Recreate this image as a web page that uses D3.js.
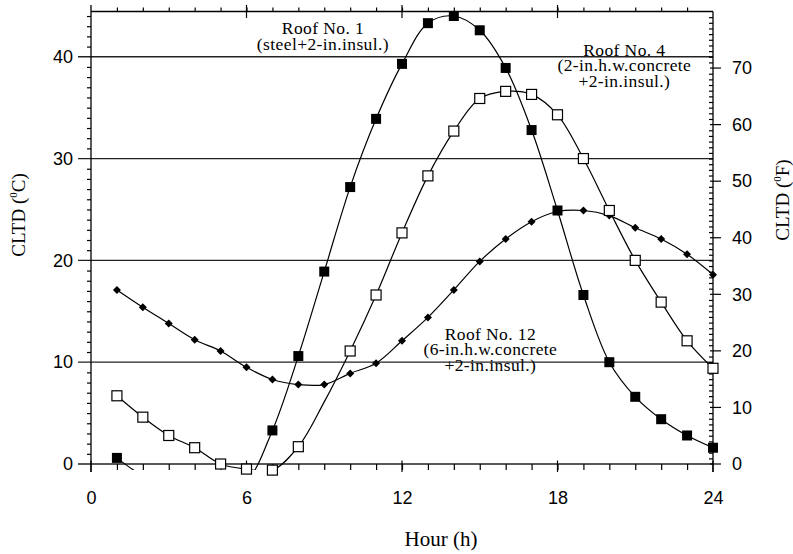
<!DOCTYPE html>
<html>
<head>
<meta charset="utf-8">
<script src="https://cdn.jsdelivr.net/npm/d3@7/dist/d3.min.js"></script>
<style>
  body { margin: 0; background: #fff; }
</style>
</head>
<body>
<div id="chart"></div>
<script>
// hours of the day and CLTD values (deg C)
var hours = [1, 2, 3, 4, 5, 6, 7, 8, 9, 10, 11, 12, 13, 14, 15, 16, 17, 18, 19, 20, 21, 22, 23, 24];
var roof1 = [0.6, -1.1, -1.7, -1.7, -2.8, -1.7, 3.3, 10.6, 18.9, 27.2, 33.9, 39.3, 43.3, 44.0, 42.6, 38.9, 32.8, 24.9, 16.6, 10.0, 6.6, 4.4, 2.8, 1.6];
var roof4 = [6.7, 4.6, 2.8, 1.6, 0.0, -0.5, -0.6, 1.7, 6.1, 11.1, 16.6, 22.7, 28.3, 32.7, 35.9, 36.6, 36.3, 34.3, 30.0, 24.9, 20.0, 15.9, 12.1, 9.4];
var roof12 = [17.1, 15.4, 13.8, 12.2, 11.1, 9.5, 8.3, 7.8, 7.8, 8.9, 9.9, 12.1, 14.4, 17.1, 19.9, 22.1, 23.8, 24.8, 24.9, 24.4, 23.2, 22.1, 20.6, 18.6];
var roof4NoMarker = [9];   // no marker drawn at 9 h in the original

var xTicks = [0, 6, 12, 18, 24];
var cTicks = [0, 10, 20, 30, 40];
var fTicks = [0, 10, 20, 30, 40, 50, 60, 70];

var notes = [
  {lines: ["Roof No. 1", "(steel+2-in.insul.)"], hour: 8.95, c: 42.2},
  {lines: ["Roof No. 4", "(2-in.h.w.concrete", "+2-in.insul.)"], hour: 20.58, c: 40.1},
  {lines: ["Roof No. 12", "(6-in.h.w.concrete", "+2-in.insul.)"], hour: 15.41, c: 12.2}
];

// set the dimensions of the plot box
var width = 793, height = 554;
var box = {left: 91, right: 713, top: 11.5, bottom: 464};

var svg = d3.select("#chart")
  .append("svg")
    .attr("width", width)
    .attr("height", height);

var x = d3.scaleLinear().domain([0, 24]).range([box.left, box.right]);
var y = d3.scaleLinear().domain([0, 80 / 1.8]).range([box.bottom, box.top]);
var yF = d3.scaleLinear().domain([0, 80]).range([box.bottom, box.top]);

var sans = "'Liberation Sans', Arial, sans-serif";
var serif = "'Liberation Serif', 'Times New Roman', serif";

// horizontal grid lines at the major deg C ticks
svg.selectAll(".grid")
  .data(cTicks)
  .enter().append("line")
    .attr("x1", box.left - 13).attr("x2", box.right)
    .attr("y1", function(d) { return y(d); })
    .attr("y2", function(d) { return y(d); })
    .attr("stroke", "#222").attr("stroke-width", 1.3);

// frame
svg.append("line").attr("x1", box.left).attr("x2", box.left).attr("y1", box.top - 6.5).attr("y2", box.bottom + 8)
  .attr("stroke", "#000").attr("stroke-width", 1.3);
svg.append("line").attr("x1", box.right).attr("x2", box.right).attr("y1", box.top).attr("y2", box.bottom + 8)
  .attr("stroke", "#000").attr("stroke-width", 1.3);
svg.append("line").attr("x1", box.left).attr("x2", box.right).attr("y1", box.top).attr("y2", box.top)
  .attr("stroke", "#000").attr("stroke-width", 1.3);

// left minor ticks (1 deg C)
var cMinor = d3.range(1, 45).filter(function(d) { return d % 10 != 0; });
svg.append("g")
  .attr("transform", "translate(" + box.left + ",0)")
  .call(d3.axisLeft(y).tickValues(cMinor).tickSize(4).tickFormat(""))
  .call(function(g) { g.select(".domain").remove(); });

// left labels
svg.append("g")
  .attr("transform", "translate(" + box.left + ",0)")
  .call(d3.axisLeft(y).tickValues(cTicks).tickSize(0).tickPadding(18))
  .call(function(g) { g.select(".domain").remove(); })
  .selectAll("text").style("font-family", sans).style("font-size", "18px").attr("fill", "#000");

// right minor ticks (1 deg F), pointing inwards
var fMinor = d3.range(1, 80).filter(function(d) { return d % 10 != 0; });
svg.append("g")
  .attr("transform", "translate(" + box.right + ",0)")
  .call(d3.axisLeft(yF).tickValues(fMinor).tickSize(4).tickFormat(""))
  .call(function(g) { g.select(".domain").remove(); });

// right major ticks cross the axis
svg.selectAll(".fmaj")
  .data(fTicks)
  .enter().append("line")
    .attr("x1", box.right - 3).attr("x2", box.right + 8)
    .attr("y1", function(d) { return yF(d); })
    .attr("y2", function(d) { return yF(d); })
    .attr("stroke", "#000").attr("stroke-width", 1.2);

svg.append("g")
  .attr("transform", "translate(" + box.right + ",0)")
  .call(d3.axisRight(yF).tickValues(fTicks).tickSize(0).tickPadding(19))
  .call(function(g) { g.select(".domain").remove(); })
  .selectAll("text").style("font-family", sans).style("font-size", "18px").attr("fill", "#000");

// bottom minor ticks (each hour)
svg.append("g")
  .attr("transform", "translate(0," + box.bottom + ")")
  .call(d3.axisBottom(x).tickValues(hours.slice(0, 23)).tickSize(6).tickFormat(""))
  .call(function(g) { g.select(".domain").remove(); });

svg.selectAll(".xmaj")
  .data(xTicks)
  .enter().append("line")
    .attr("x1", function(d) { return x(d); })
    .attr("x2", function(d) { return x(d); })
    .attr("y1", box.bottom - 3.5).attr("y2", box.bottom + 8)
    .attr("stroke", "#000").attr("stroke-width", 1.2);

svg.append("g")
  .attr("transform", "translate(0," + box.bottom + ")")
  .call(d3.axisBottom(x).tickValues(xTicks).tickSize(0).tickPadding(27))
  .call(function(g) { g.select(".domain").remove(); })
  .selectAll("text").style("font-family", sans).style("font-size", "18px").attr("fill", "#000");

// top ticks
svg.append("g")
  .attr("transform", "translate(0," + box.top + ")")
  .call(d3.axisTop(x).tickValues(hours.slice(0, 23)).tickSize(4).tickFormat(""))
  .call(function(g) { g.select(".domain").remove(); });

svg.selectAll(".tmaj")
  .data([6, 12, 18])
  .enter().append("line")
    .attr("x1", function(d) { return x(d); })
    .attr("x2", function(d) { return x(d); })
    .attr("y1", box.top - 6.5).attr("y2", box.top + 6.5)
    .attr("stroke", "#000").attr("stroke-width", 1.2);

svg.selectAll(".tick line").attr("stroke-width", 1.2);

// axis titles
svg.append("text")
  .attr("x", 441).attr("y", 546)
  .attr("text-anchor", "middle")
  .style("font-family", serif).style("font-size", "21px")
  .text("Hour (h)");

function yTitle(tx, unit) {
  var t = svg.append("text")
    .attr("transform", "translate(" + tx[0] + "," + tx[1] + ") rotate(-90)")
    .attr("text-anchor", "middle")
    .style("font-family", serif).style("font-size", "19px");
  t.append("tspan").text("CLTD (");
  t.append("tspan").attr("dy", -8).style("font-size", "11px").text("0");
  t.append("tspan").attr("dy", 8).text(unit + ")");
}
yTitle([25, 215], "C");
yTitle([789, 200], "F");

// curves, clipped just under the zero line
svg.append("clipPath").attr("id", "plotclip")
  .append("rect")
    .attr("x", box.left).attr("y", box.top)
    .attr("width", box.right - box.left)
    .attr("height", y(-0.6) - box.top);

var line = d3.line()
  .x(function(d) { return x(d.h); })
  .y(function(d) { return y(d.v); })
  .curve(d3.curveCatmullRom.alpha(0.5));

function pts(vals) {
  return hours.map(function(h, i) { return {h: h, v: vals[i]}; });
}

[roof12, roof4, roof1].forEach(function(vals) {
  svg.append("path")
    .datum(pts(vals))
    .attr("clip-path", "url(#plotclip)")
    .attr("fill", "none")
    .attr("stroke", "#000")
    .attr("stroke-width", 1.2)
    .attr("d", line);
});

function visible(d) { return d.v >= -0.65; }

// roof 12: small diamonds
svg.selectAll(".dia")
  .data(pts(roof12).filter(visible))
  .enter().append("path")
    .attr("transform", function(d) { return "translate(" + x(d.h) + "," + y(d.v) + ")"; })
    .attr("d", "M0,-4L4,0L0,4L-4,0Z")
    .attr("fill", "#000");

// roof 4: open squares
svg.selectAll(".open")
  .data(pts(roof4).filter(visible).filter(function(d) { return roof4NoMarker.indexOf(d.h) < 0; }))
  .enter().append("rect")
    .attr("x", function(d) { return x(d.h) - 5; })
    .attr("y", function(d) { return y(d.v) - 5; })
    .attr("width", 10).attr("height", 10)
    .attr("fill", "#fff").attr("stroke", "#000").attr("stroke-width", 1.2);

// roof 1: filled squares
svg.selectAll(".fill")
  .data(pts(roof1).filter(visible))
  .enter().append("rect")
    .attr("x", function(d) { return x(d.h) - 5; })
    .attr("y", function(d) { return y(d.v) - 5; })
    .attr("width", 10).attr("height", 10)
    .attr("fill", "#000");

// curve labels
notes.forEach(function(n) {
  var t = svg.append("text")
    .attr("text-anchor", "middle")
    .style("font-family", serif).style("font-size", "17.5px")
    .style("letter-spacing", "0.4px");
  n.lines.forEach(function(s, i) {
    t.append("tspan")
      .attr("x", x(n.hour))
      .attr("y", y(n.c) + i * 15.5)
      .text(s);
  });
});
</script>
</body>
</html>
